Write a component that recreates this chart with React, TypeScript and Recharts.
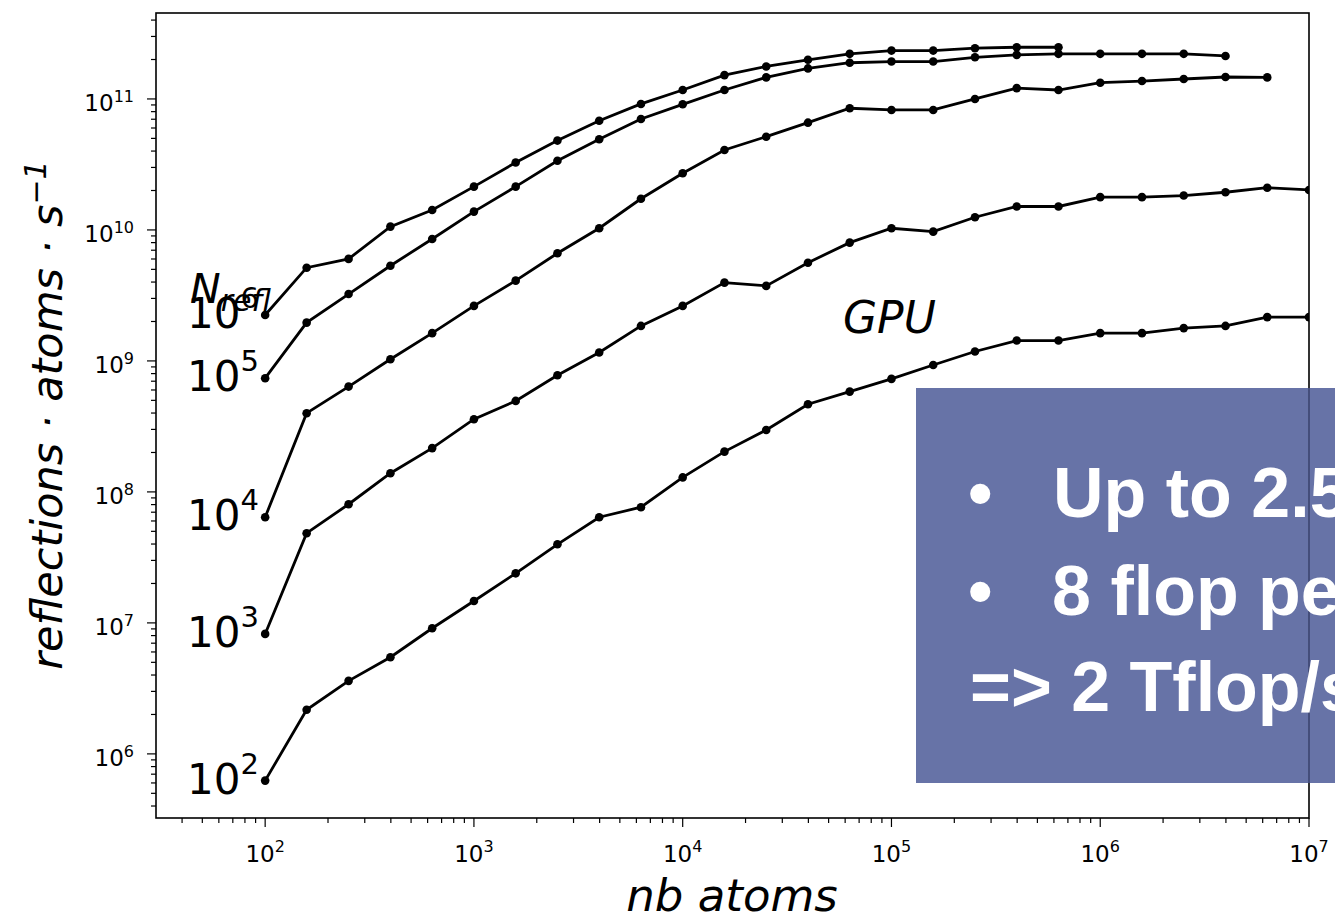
import React from "react";
import { LineChart, Line, XAxis, YAxis, Customized } from "recharts";

// plot frame in page pixels (matplotlib-like axes box)
const W = 1335;
const H = 918;
const L = 156;
const R = 1309;
const T = 13;
const B = 818;

const X_MIN = 30;
const X_MAX = 1e7;
const Y_MIN = 3.24e5;
const Y_MAX = 4.53e11;

const nbAtoms = [
  100, 158, 251, 398, 631, 1000, 1585, 2512, 3981, 6310, 10000, 15849, 25119,
  39811, 63096, 100000, 158489, 251189, 398107, 630957, 1000000, 1584893,
  2511886, 3981072, 6309573, 10000000,
];

// reflections·atoms/s, one list per N_refl
const nRefl1e6 = [
  2.24e9, 5.15e9, 6.01e9, 1.06e10, 1.42e10, 2.14e10, 3.27e10, 4.81e10, 6.82e10,
  9.16e10, 1.17e11, 1.52e11, 1.77e11, 1.99e11, 2.21e11, 2.34e11, 2.34e11,
  2.44e11, 2.48e11, 2.48e11,
];
const nRefl1e5 = [
  7.38e8, 1.96e9, 3.24e9, 5.33e9, 8.53e9, 1.38e10, 2.14e10, 3.37e10, 4.92e10,
  7.03e10, 9.1e10, 1.17e11, 1.46e11, 1.71e11, 1.89e11, 1.93e11, 1.93e11,
  2.08e11, 2.17e11, 2.21e11, 2.21e11, 2.21e11, 2.21e11, 2.13e11,
];
const nRefl1e4 = [
  6.41e7, 3.99e8, 6.37e8, 1.03e9, 1.63e9, 2.63e9, 4.1e9, 6.64e9, 1.03e10,
  1.73e10, 2.71e10, 4.08e10, 5.15e10, 6.59e10, 8.49e10, 8.24e10, 8.24e10,
  1.0e11, 1.21e11, 1.17e11, 1.33e11, 1.37e11, 1.42e11, 1.47e11, 1.46e11,
];
const nRefl1e3 = [
  8.24e6, 4.84e7, 8.05e7, 1.39e8, 2.16e8, 3.59e8, 4.95e8, 7.78e8, 1.16e9,
  1.85e9, 2.63e9, 3.96e9, 3.74e9, 5.62e9, 8.0e9, 1.03e10, 9.7e9, 1.25e10,
  1.51e10, 1.51e10, 1.78e10, 1.78e10, 1.83e10, 1.94e10, 2.1e10, 2.02e10,
];
const nRefl1e2 = [
  6.25e5, 2.17e6, 3.61e6, 5.47e6, 9.1e6, 1.47e7, 2.39e7, 3.98e7, 6.41e7,
  7.64e7, 1.29e8, 2.03e8, 2.97e8, 4.67e8, 5.83e8, 7.29e8, 9.31e8, 1.18e9,
  1.43e9, 1.43e9, 1.63e9, 1.63e9, 1.78e9, 1.85e9, 2.16e9, 2.16e9,
];

const seriesKeys = ["n6", "n5", "n4", "n3", "n2"];
const seriesExp = ["6", "5", "4", "3", "2"];
const seriesValues = [nRefl1e6, nRefl1e5, nRefl1e4, nRefl1e3, nRefl1e2];

const boxLines = ["Up to 2.5", "8 flop per", "=> 2 Tflop/s"];

const data = nbAtoms.map((x, i) => {
  const row: Record<string, number | undefined> = { x };
  seriesKeys.forEach((k, j) => {
    row[k] = seriesValues[j][i];
  });
  return row;
});

// log ticks: 1..9 x 10^k inside the domain
function logTicks(lo: number, hi: number) {
  const out: number[] = [];
  for (let d = 1e1; d <= 1e11; d *= 10) {
    for (let m = 1; m <= 9; m++) {
      const v = m * d;
      if (v > lo && v < hi) out.push(v);
    }
  }
  return out;
}

const xTicks = logTicks(X_MIN, X_MAX * 1.001);
const yTicks = logTicks(Y_MIN, Y_MAX);

const isMajor = (v: number) => Math.abs(Math.log10(v) - Math.round(Math.log10(v))) < 1e-6;
const exp = (v: number) => String(Math.round(Math.log10(v)));

const yPix = (v: number) =>
  T + ((Math.log10(Y_MAX) - Math.log10(v)) / (Math.log10(Y_MAX) - Math.log10(Y_MIN))) * (B - T);

const FONT = "DejaVu Sans, sans-serif";

function XTick(props: any) {
  const { x, y, payload } = props;
  const v = payload.value;
  const major = isMajor(v);
  return (
    <g>
      <line x1={x} x2={x} y1={y} y2={y + (major ? 9 : 5)} stroke="#000" strokeWidth={1.2} />
      {major && (
        <text x={x} y={y + 44} textAnchor="middle" fontFamily={FONT} fontSize={23} fill="#000">
          10
          <tspan dy={-10} fontSize={16}>
            {exp(v)}
          </tspan>
        </text>
      )}
    </g>
  );
}

function YTick(props: any) {
  const { x, y, payload } = props;
  const v = payload.value;
  const major = isMajor(v);
  return (
    <g>
      <line x1={x - (major ? 9 : 5)} x2={x} y1={y} y2={y} stroke="#000" strokeWidth={1.2} />
      {major && (
        <text x={x - 22} y={y + 12} textAnchor="end" fontFamily={FONT} fontSize={23} fill="#000">
          10
          <tspan dy={-9} fontSize={16}>
            {exp(v)}
          </tspan>
        </text>
      )}
    </g>
  );
}

function Overlay() {
  return (
    <g>
      <rect x={L} y={T} width={R - L} height={B - T} fill="none" stroke="#000" strokeWidth={1.6} />

      {seriesValues.map((vals, j) => (
        <text
          key={seriesKeys[j]}
          x={187}
          y={yPix(vals[0]) + 13}
          fontFamily={FONT}
          fontSize={42}
          fill="#000"
        >
          10
          <tspan dy={-20} fontSize={29}>
            {seriesExp[j]}
          </tspan>
        </text>
      ))}
      <text x={190} y={303} fontFamily={FONT} fontStyle="italic" fontSize={41} fill="#000">
        N
        <tspan dy={8} fontSize={30}>
          refl
        </tspan>
      </text>
      <text x={843} y={333} fontFamily={FONT} fontStyle="italic" fontSize={44} fill="#000">
        GPU
      </text>

      <text
        x={62}
        y={415}
        transform="rotate(-90, 62, 415)"
        textAnchor="middle"
        fontFamily={FONT}
        fontStyle="italic"
        fontSize={43}
        fill="#000"
      >
        reflections · atoms · s
        <tspan dy={-16} fontSize={30}>
          −1
        </tspan>
      </text>
      <text x={732} y={911} textAnchor="middle" fontFamily={FONT} fontStyle="italic" fontSize={45} fill="#000">
        nb atoms
      </text>

      <rect x={916} y={388} width={W - 916} height={395} fill="#6773a7" />
      <line x1={R} x2={R} y1={388} y2={783} stroke="#3c4570" strokeWidth={1.6} />
      <g fontFamily="Liberation Sans, Arial, sans-serif" fontWeight="bold" fontSize={70} fill="#fff">
        <text x={968} y={517}>•</text>
        <text x={1053} y={517}>{boxLines[0]}</text>
        <text x={968} y={615}>•</text>
        <text x={1052} y={615}>{boxLines[1]}</text>
        <text x={970} y={711}>{boxLines[2]}</text>
      </g>
    </g>
  );
}

export default function App() {
  return (
    <div style={{ position: "absolute", left: 0, top: 0, width: W, height: H, background: "#fff" }}>
      <LineChart width={W} height={H} data={data} margin={{ top: T, right: W - R, bottom: 0, left: 0 }}>
        <XAxis
          dataKey="x"
          type="number"
          scale="log"
          domain={[X_MIN, X_MAX]}
          allowDataOverflow
          ticks={xTicks}
          interval={0}
          height={H - B}
          axisLine={false}
          tickLine={false}
          tickSize={0}
          tickMargin={0}
          tick={<XTick />}
        />
        <YAxis
          type="number"
          scale="log"
          domain={[Y_MIN, Y_MAX]}
          allowDataOverflow
          ticks={yTicks}
          interval={0}
          width={L}
          axisLine={false}
          tickLine={false}
          tickSize={0}
          tickMargin={0}
          tick={<YTick />}
        />
        {seriesKeys.map((k) => (
          <Line
            key={k}
            dataKey={k}
            stroke="#000"
            strokeWidth={2.8}
            dot={{ r: 4.3, fill: "#000", stroke: "none" }}
            activeDot={false}
            isAnimationActive={false}
          />
        ))}
        <Customized component={Overlay} />
      </LineChart>
    </div>
  );
}
